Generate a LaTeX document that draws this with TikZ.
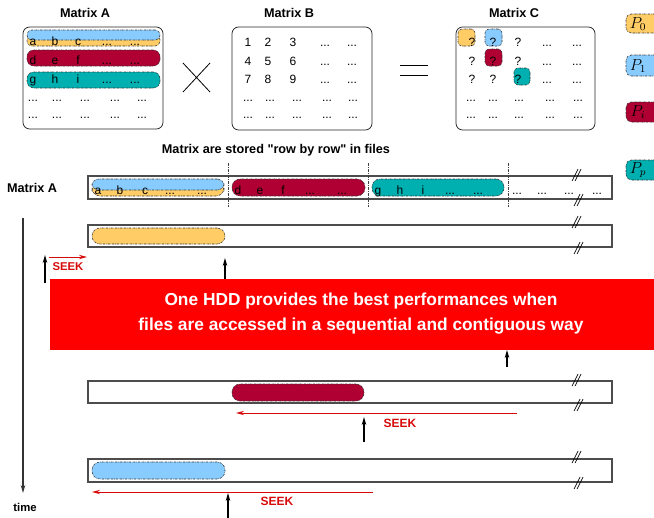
\documentclass[tikz,border=0pt]{standalone}
\usepackage{fontspec}
\setmainfont{Liberation Sans}[Ligatures=TeXOff]
\usetikzlibrary{arrows.meta,fit}
\definecolor{yel}{RGB}{255,204,102}
\definecolor{sky}{RGB}{136,204,255}
\definecolor{crim}{RGB}{176,0,51}
\definecolor{tealc}{RGB}{0,176,176}
\definecolor{banred}{RGB}{255,0,0}
\definecolor{seekred}{RGB}{215,10,10}
\newcommand\mydots{...}
\begin{document}
\begin{tikzpicture}[x=0.75pt,y=-0.75pt,
  ttl/.style={font=\bfseries\fontsize{9.5}{11}\selectfont, inner sep=0},
  ent/.style={font=\fontsize{9}{10}\selectfont, anchor=base, inner sep=0},
  matbox/.style={draw=black!85, line width=0.6pt, rounded corners=5pt, inner sep=0},
  pill/.style={draw=black!80, line width=0.4pt, dash pattern=on 1.6pt off 0.7pt on 0.4pt off 0.7pt, inner sep=0},
  bar/.style={draw=black!70, line width=0.8pt, inner sep=0},
  divider/.style={black!75, line width=0.5pt, dash pattern=on 2pt off 1pt on 0.5pt off 1pt},
  blk/.style={-{Stealth[length=6pt,width=3.4pt]}, line width=0.9pt, black},
  seekarr/.style={-{Stealth[length=6pt,width=3.2pt]}, draw=seekred, line width=0.6pt},
  seeklbl/.style={font=\bfseries\fontsize{9}{10}\selectfont, text=seekred, inner sep=0},
  legendbox/.style={pill, rounded corners=4pt},
  plabel/.style={font=\fontsize{12}{13}\selectfont, inner sep=0},
  brk/.pic={\draw[line width=0.5pt] (-5,6)--(1,-6) (-2,6)--(4,-6);}
]
\useasboundingbox (0,0) rectangle (654,518);
\begin{scope}
\clip (0,0) rectangle (654,518);

% ---------- Matrix A ----------
\node[ttl] (tA) at (85,13) {Matrix A};
\node[matbox, fit={(23,27) (163,129)}] (matA) {};
\node[pill, fill=yel, rounded corners=3.5pt, fit={(27,35) (160,46)}] (pA0) {};
\node[pill, fill=sky, rounded corners=3.5pt, fit={(27,30) (160,40)}] (pA1) {};
\node[pill, fill=crim, rounded corners=5pt, fit={(27,50) (160,66)}] (pAi) {};
\node[pill, fill=tealc, rounded corners=5pt, fit={(27,72) (160,88)}] (pAp) {};
\foreach \x/\t [count=\k] in {33/a,55/b,78/c,107/\mydots,135/\mydots}
  \node[ent] (A1\k) at (\x,45) {\t};
\foreach \x/\t [count=\k] in {33/d,55/e,78/f,107/\mydots,135/\mydots}
  \node[ent] (A2\k) at (\x,64) {\t};
\foreach \x/\t [count=\k] in {33/g,55/h,78/i,107/\mydots,135/\mydots}
  \node[ent] (A3\k) at (\x,83) {\t};
\foreach \x [count=\k] in {33,57,85,115,142} {
  \node[ent] (A4\k) at (\x,101) {\mydots};
  \node[ent] (A5\k) at (\x,118) {\mydots};
}

% multiplication sign
\coordinate (m1) at (183,63); \coordinate (m2) at (210,92);
\coordinate (m3) at (183,92); \coordinate (m4) at (210,63);
\draw[line width=0.6pt] (m1) -- (m2) (m3) -- (m4);

% ---------- Matrix B ----------
\node[ttl] (tB) at (289,13) {Matrix B};
\node[matbox, fit={(232,27) (372,130)}] (matB) {};
\foreach \x/\t [count=\k] in {248/1,268/2,293/3,325/\mydots,352/\mydots}
  \node[ent] (B1\k) at (\x,46) {\t};
\foreach \x/\t [count=\k] in {248/4,268/5,293/6,325/\mydots,352/\mydots}
  \node[ent] (B2\k) at (\x,65) {\t};
\foreach \x/\t [count=\k] in {248/7,268/8,293/9,325/\mydots,352/\mydots}
  \node[ent] (B3\k) at (\x,83) {\t};
\foreach \x [count=\k] in {248,270,297,327,353} {
  \node[ent] (B4\k) at (\x,101) {\mydots};
  \node[ent] (B5\k) at (\x,118) {\mydots};
}

% equals sign
\coordinate (e1) at (400,65); \coordinate (e2) at (428,65);
\coordinate (e3) at (400,75); \coordinate (e4) at (428,75);
\draw[line width=0.6pt] (e1) -- (e2) (e3) -- (e4);

% ---------- Matrix C ----------
\node[ttl] (tC) at (514,13) {Matrix C};
\node[matbox, fit={(456,27) (595,130)}] (matC) {};
\node[pill, fill=yel, rounded corners=3pt, fit={(458,29) (475,46)}] (c11) {};
\node[pill, fill=sky, rounded corners=3pt, fit={(485,29) (502,46)}] (c12) {};
\node[pill, fill=crim, rounded corners=3pt, fit={(485,49) (502,66)}] (c22) {};
\node[pill, fill=tealc, rounded corners=3pt, fit={(514,68) (530,85)}] (c33) {};
\foreach \x/\t [count=\k] in {472/?,493/?,518/?,547/\mydots,577/\mydots} {
  \node[ent] (C1\k) at (\x,46) {\t};
  \node[ent] (C2\k) at (\x,65) {\t};
  \node[ent] (C3\k) at (\x,83) {\t};
}
\foreach \x [count=\k] in {471,493,519,550,578} {
  \node[ent] (C4\k) at (\x,101) {\mydots};
  \node[ent] (C5\k) at (\x,118) {\mydots};
}

% ---------- process legend ----------
\node[legendbox, fill=yel, fit={(626,14) (660,33)}] (L0) {};
\node[legendbox, fill=sky, fit={(626,55) (660,76)}] (L1) {};
\node[legendbox, fill=crim, fit={(626,102) (660,122)}] (Li) {};
\node[legendbox, fill=tealc, fit={(626,160) (660,180)}] (Lp) {};
\node[plabel] (l0) at (638,24) {$P_0$};
\node[plabel] (l1) at (638,66) {$P_1$};
\node[plabel] (li) at (638,112) {$P_i$};
\node[plabel] (lp) at (638,170) {$P_p$};

% ---------- file layout ----------
\node[ttl] (cap) at (276,150) {Matrix are stored "row by row" in files};
\node[ttl] (lblA) at (32,188) {Matrix A};

\node[bar, fit={(88,176) (612,199)}] (bar1) {};
\node[pill, fill=yel, rounded corners=6pt, fit={(92,183) (224,196)}] (f0) {};
\node[pill, fill=sky, rounded corners=5pt, fit={(92,179) (224,190)}] (f1) {};
\node[pill, fill=crim, rounded corners=6pt, fit={(232,179) (365,196)}] (fi) {};
\node[pill, fill=tealc, rounded corners=6pt, fit={(372,179) (504,196)}] (fp) {};
\foreach \x/\t [count=\k] in {98/a,120/b,145/c,170/\mydots,202/\mydots,
                              238/d,260/e,283/f,310/\mydots,342/\mydots,
                              378/g,400/h,423/i,450/\mydots,478/\mydots,
                              517/\mydots,542/\mydots,569/\mydots,597/\mydots}
  \node[ent] (F\k) at (\x,194) {\t};
\foreach \x [count=\k] in {228,368,508} {
  \coordinate (dt\k) at (\x,163);
  \coordinate (db\k) at (\x,207);
  \draw[divider] (dt\k) -- (db\k);
}
\pic at (577,175) {brk};
\pic at (579,200) {brk};

% access 1: P0 reads its row
\node[bar, fit={(88,225) (612,247)}] (bar2) {};
\node[pill, fill=yel, rounded corners=6pt, fit={(92,228) (225,244)}] (g0) {};
\pic at (577,222) {brk};
\pic at (579,248) {brk};

% access 3: Pi reads its row
\node[bar, fit={(88,381) (612,403)}] (bar3) {};
\node[pill, fill=crim, rounded corners=6pt, fit={(232,384) (364,401)}] (gi) {};
\pic at (577,380) {brk};
\pic at (579,405) {brk};

% access 4: P1 reads its row
\node[bar, fit={(88,459) (612,482)}] (bar4) {};
\node[pill, fill=sky, rounded corners=6pt, fit={(92,462) (225,479)}] (g1) {};
\pic at (577,457) {brk};
\pic at (579,483) {brk};

% time axis
\coordinate (t0) at (23,218);
\coordinate (t1) at (23,493);
\draw[-{Stealth[length=6pt,width=3.4pt]}, line width=0.8pt, black!80] (t0) -- (t1);
\node[font=\bfseries\fontsize{8.5}{10}\selectfont, inner sep=0] (time) at (25,507) {time};

% head positions
\coordinate (h1s) at (45,283); \coordinate (h1e) at (45,255);
\coordinate (h2s) at (225,285); \coordinate (h2e) at (225,258);
\coordinate (h3s) at (507,367); \coordinate (h3e) at (507,350);
\coordinate (h4s) at (364,442); \coordinate (h4e) at (364,417);
\coordinate (h5s) at (228,520); \coordinate (h5e) at (228,493);
\draw[blk] (h1s) -- (h1e);
\draw[blk] (h2s) -- (h2e);
\draw[blk] (h4s) -- (h4e);
\draw[blk] (h5s) -- (h5e);

% seeks
\coordinate (s1a) at (49,257); \coordinate (s1b) at (87,257);
\draw[seekarr] (s1a) -- (s1b);
\node[seeklbl, font=\bfseries\fontsize{8.5}{10}\selectfont] (seek1) at (68,267) {SEEK};
\coordinate (s2a) at (517,413); \coordinate (s2b) at (236,413);
\draw[seekarr] (s2a) -- (s2b);
\node[seeklbl] (seek2) at (400,423) {SEEK};
\coordinate (s3a) at (373,492); \coordinate (s3b) at (92,492);
\draw[seekarr] (s3a) -- (s3b);
\node[seeklbl] (seek3) at (277,501) {SEEK};

% message banner
\fill[banred] (50,279) rectangle (660,350);
\node[font=\bfseries\fontsize{13}{18.75}\selectfont, text=white, align=center, inner sep=0] (msg) at (361,314)
  {One HDD provides the best performances when\\files are accessed in a sequential and contiguous way};
\draw[blk] (h3s) -- (h3e);
\end{scope}
\end{tikzpicture}
\end{document}
